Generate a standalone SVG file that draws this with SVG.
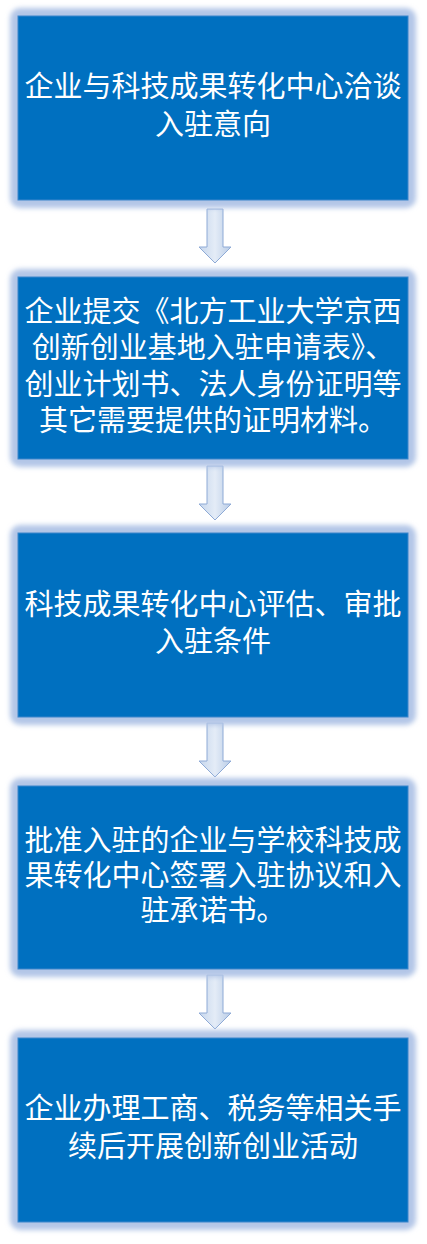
<svg xmlns="http://www.w3.org/2000/svg" width="427" height="1244" viewBox="0 0 427 1244">
<defs>
<filter id="glow" x="-10%" y="-10%" width="120%" height="120%">
<feGaussianBlur stdDeviation="2.5"/>
</filter>
<linearGradient id="arrowFill" x1="0" y1="0" x2="1" y2="0">
<stop offset="0" stop-color="#c6d6ec"/>
<stop offset="0.5" stop-color="#e4ecf7"/>
<stop offset="1" stop-color="#b9cce6"/>
</linearGradient>
<path id="arrow" d="M207,0 L223,0 L223,38 L231,38 L215,54 L199,38 L207,38 Z"/>
</defs>
<style>
.halo{fill:#b3c6e7;filter:url(#glow)}
.box{fill:#0070c0;stroke:#3d86cc;stroke-width:1}
.lbl{fill:#ffffff;font-family:"Liberation Sans","Noto Sans CJK SC","Microsoft YaHei",sans-serif;font-size:29px;text-anchor:middle}
.arr{fill:url(#arrowFill);stroke:#8eaad6;stroke-width:1}
</style>
<rect width="427" height="1244" fill="#ffffff"/>
<g id="connectors">
<use href="#arrow" class="arr" transform="translate(0,209)"/>
<use href="#arrow" class="arr" transform="translate(0,466)"/>
<use href="#arrow" class="arr" transform="translate(0,723)"/>
<use href="#arrow" class="arr" transform="translate(0,975)"/>
</g>
<g id="node1">
<rect class="halo" x="10" y="8" width="406" height="200" rx="10"/>
<rect class="box" x="18" y="16" width="390" height="184"/>
<text class="lbl"><tspan x="213" y="97">企业与科技成果转化中心洽谈</tspan><tspan x="213" y="135">入驻意向</tspan></text>
</g>
<g id="node2">
<rect class="halo" x="10" y="269" width="406" height="198" rx="10"/>
<rect class="box" x="18" y="277" width="390" height="182"/>
<text class="lbl"><tspan x="213" y="322">企业提交《北方工业大学京西</tspan><tspan x="213" y="358">创新创业基地入驻申请表》、</tspan><tspan x="213" y="395">创业计划书、法人身份证明等</tspan><tspan x="213" y="431">其它需要提供的证明材料。</tspan></text>
</g>
<g id="node3">
<rect class="halo" x="10" y="525" width="406" height="200" rx="10"/>
<rect class="box" x="18" y="533" width="390" height="184"/>
<text class="lbl"><tspan x="213" y="615">科技成果转化中心评估、审批</tspan><tspan x="213" y="652">入驻条件</tspan></text>
</g>
<g id="node4">
<rect class="halo" x="10" y="778" width="406" height="199" rx="10"/>
<rect class="box" x="18" y="786" width="390" height="183"/>
<text class="lbl"><tspan x="213" y="851">批准入驻的企业与学校科技成</tspan><tspan x="213" y="886">果转化中心签署入驻协议和入</tspan><tspan x="213" y="921">驻承诺书。</tspan></text>
</g>
<g id="node5">
<rect class="halo" x="10" y="1030" width="406" height="200" rx="10"/>
<rect class="box" x="18" y="1038" width="390" height="184"/>
<text class="lbl"><tspan x="213" y="1119">企业办理工商、税务等相关手</tspan><tspan x="213" y="1157">续后开展创新创业活动</tspan></text>
</g>
</svg>
